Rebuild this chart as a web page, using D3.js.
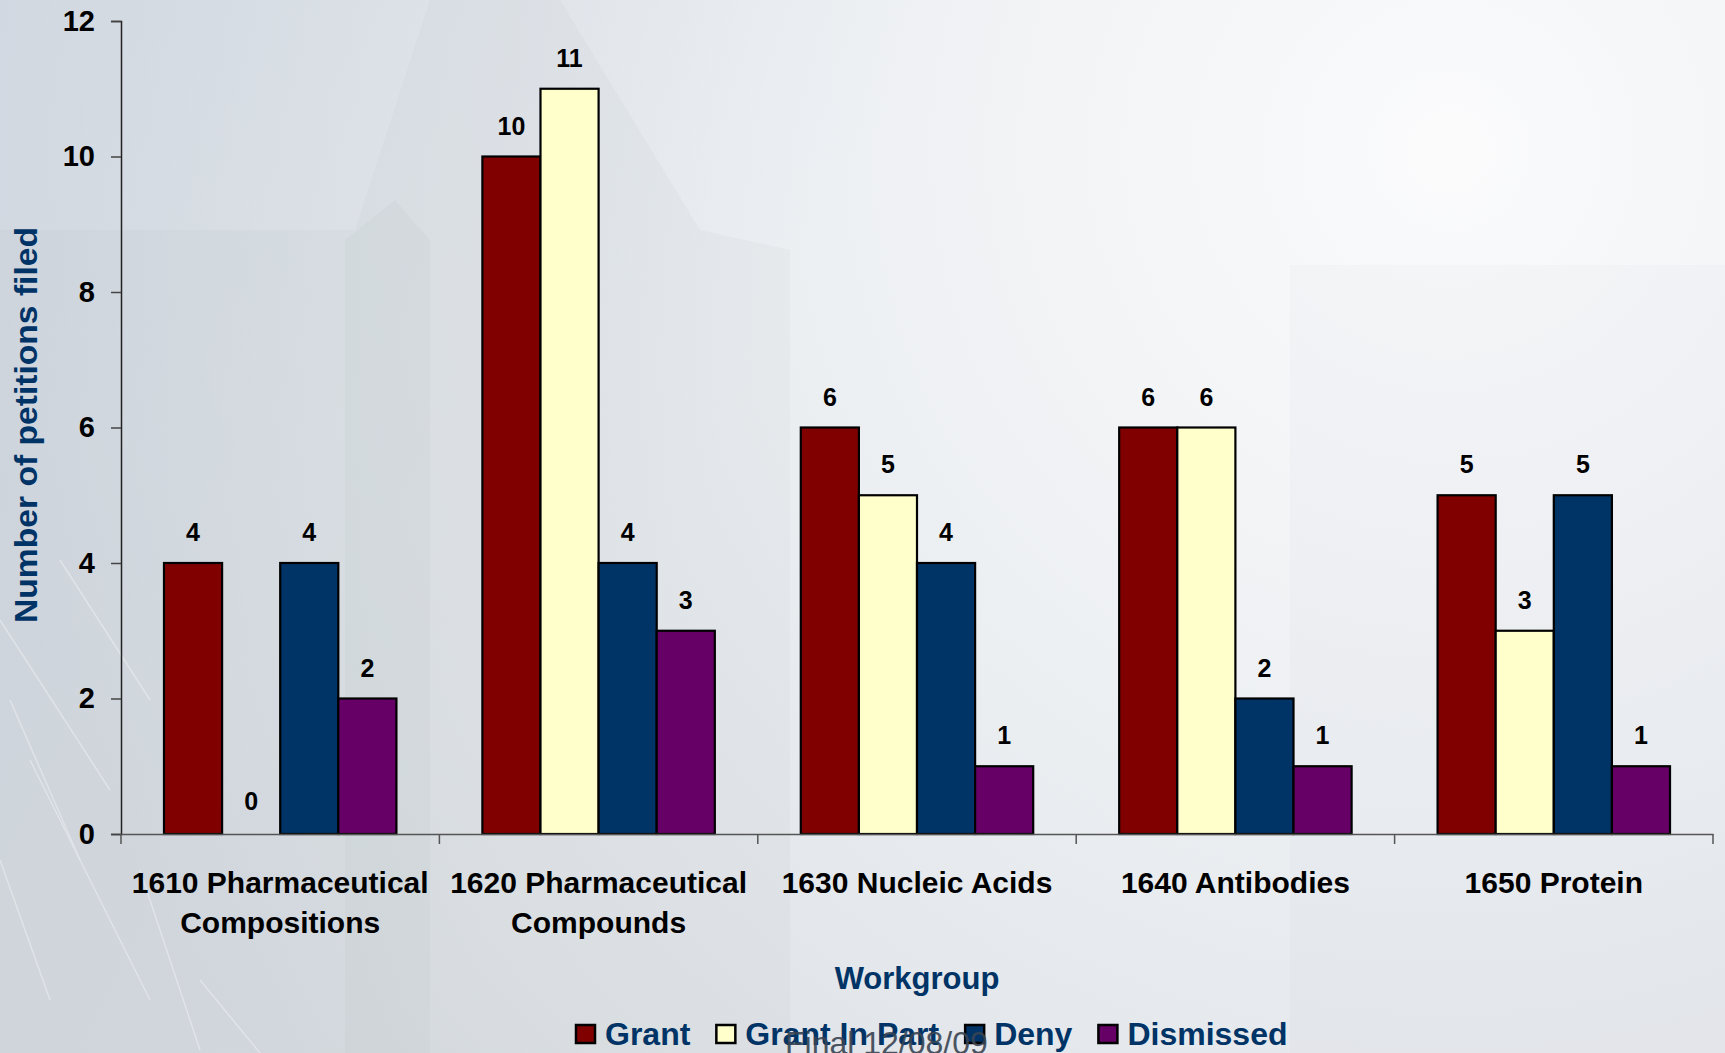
<!DOCTYPE html>
<html>
<head>
<meta charset="utf-8">
<script src="https://cdn.jsdelivr.net/npm/d3@7/dist/d3.min.js"></script>
<style>
  html, body { margin: 0; padding: 0; overflow: hidden; }
  body { width: 1725px; height: 1053px; }
  text { font-family: "Liberation Sans", Arial, sans-serif; }
</style>
</head>
<body>
<svg id="chart" width="1725" height="1053"></svg>
<script>
const categories = [
  ["1610 Pharmaceutical", "Compositions"],
  ["1620 Pharmaceutical", "Compounds"],
  ["1630 Nucleic Acids"],
  ["1640 Antibodies"],
  ["1650 Protein"]
];
const seriesNames = ["Grant", "Grant In Part", "Deny", "Dismissed"];
const grant       = [4, 10, 6, 6, 5];
const grantInPart = [0, 11, 5, 6, 3];
const deny        = [4, 4, 4, 2, 5];
const dismissed   = [2, 3, 1, 1, 1];
const seriesColors = ["#800000", "#FFFFCC", "#003366", "#660066"];
const yTicks = [0, 2, 4, 6, 8, 10, 12];
const yTitle = "Number of petitions filed";
const xTitle = "Workgroup";
const footer = "Final 12/08/09";

const seriesValues = [grant, grantInPart, deny, dismissed];
const catKeys = categories.map(c => c.join(" "));

const svg = d3.select("#chart");
const W = 1725, H = 1053;

// ---- background ----
const defs = svg.append("defs");
const bg = defs.append("radialGradient").attr("id", "bg")
  .attr("gradientUnits", "userSpaceOnUse")
  .attr("cx", 1450).attr("cy", 150).attr("r", 1500);
bg.append("stop").attr("offset", "0").attr("stop-color", "#fbfbfc");
bg.append("stop").attr("offset", "0.45").attr("stop-color", "#eceff2");
bg.append("stop").attr("offset", "1").attr("stop-color", "#d7dbe0");
svg.append("rect").attr("width", W).attr("height", H).attr("fill", "url(#bg)");

const tint = defs.append("linearGradient").attr("id", "tint")
  .attr("x1", 0).attr("y1", 0).attr("x2", 1).attr("y2", 0.3);
tint.append("stop").attr("offset", "0").attr("stop-color", "#c9d3e0").attr("stop-opacity", 0.45);
tint.append("stop").attr("offset", "0.5").attr("stop-color", "#c9d3e0").attr("stop-opacity", 0);
svg.append("rect").attr("width", W).attr("height", H).attr("fill", "url(#tint)");

// faint building silhouette
svg.append("path")
  .attr("d", "M0,230 L355,230 L430,0 L560,0 L700,230 L790,250 L790,1053 L0,1053 Z")
  .attr("fill", "#9aa3ad").attr("opacity", 0.07);
svg.append("path")
  .attr("d", "M345,240 L395,200 L430,240 L430,1053 L345,1053 Z")
  .attr("fill", "#8a939d").attr("opacity", 0.06);
svg.append("path")
  .attr("d", "M1290,265 L1725,265 L1725,1053 L1290,1053 Z")
  .attr("fill", "#9aa3ad").attr("opacity", 0.04);
// light streaks lower-left
const streaks = svg.append("g").attr("stroke", "#ffffff").attr("opacity", 0.35).attr("stroke-width", 1.5);
[[0,620,110,790],[10,700,80,860],[30,760,150,1000],[140,870,200,1050],[60,560,150,700],[200,980,260,1053],[0,860,50,1000]]
  .forEach(s => streaks.append("line").attr("x1", s[0]).attr("y1", s[1]).attr("x2", s[2]).attr("y2", s[3]));

// ---- scales ----
const plotLeft = 121, plotRight = 1713, plotTop = 21, plotBottom = 834;
const x0 = d3.scaleBand().domain(catKeys).range([plotLeft, plotRight]).padding(0);
const bw = x0.bandwidth();
const x1 = d3.scaleBand().domain(seriesNames).range([0.135 * bw, 0.865 * bw]).padding(0);
const y = d3.scaleLinear().domain([0, 12]).range([plotBottom, plotTop]);
const color = d3.scaleOrdinal().domain(seriesNames).range(seriesColors);

// ---- bars ----
const groups = svg.append("g").selectAll("g").data(catKeys).join("g")
  .attr("transform", d => `translate(${x0(d)},0)`);

const barData = (ci) => seriesNames.map((s, si) => ({ s, v: seriesValues[si][ci] }));

groups.each(function(cat, ci) {
  const g = d3.select(this);
  const data = barData(ci);
  g.selectAll("rect").data(data.filter(d => d.v > 0)).join("rect")
    .attr("x", d => x1(d.s))
    .attr("y", d => y(d.v))
    .attr("width", x1.bandwidth())
    .attr("height", d => y(0) - y(d.v))
    .attr("fill", d => color(d.s))
    .attr("stroke", "#000")
    .attr("stroke-width", 2.2);
  g.selectAll("text.val").data(data).join("text")
    .attr("class", "val")
    .attr("x", d => x1(d.s) + x1.bandwidth() / 2)
    .attr("y", d => y(d.v) - (d.v === 0 ? 24 : 22))
    .attr("text-anchor", "middle")
    .attr("font-size", 25).attr("font-weight", "bold").attr("fill", "#000")
    .text(d => d.v);
});

// ---- y axis ----
const yAxis = d3.axisLeft(y).tickValues(yTicks).tickSize(10).tickPadding(16).tickFormat(d3.format("d"));
const gy = svg.append("g").attr("transform", `translate(${plotLeft},0)`).call(yAxis);
gy.select(".domain").attr("stroke", "#222").attr("stroke-width", 1.5);
gy.selectAll(".tick line").attr("stroke", "#444").attr("stroke-width", 1.5);
gy.selectAll(".tick text").attr("font-size", 29).attr("font-weight", "bold")
  .attr("fill", "#000").attr("font-family", "'Liberation Sans', Arial, sans-serif");

// ---- x axis ----
const xAxis = d3.axisBottom(x0).tickSize(0).tickFormat("");
const gx = svg.append("g").attr("transform", `translate(0,${plotBottom})`).call(xAxis);
gx.select(".domain").attr("stroke", "#555").attr("stroke-width", 1.5);
gx.selectAll(".tick").remove();
// boundary ticks between categories
const bounds = catKeys.map(k => x0(k)).concat([x0(catKeys[catKeys.length - 1]) + bw]);
gx.selectAll("line.bt").data(bounds).join("line").attr("class", "bt")
  .attr("x1", d => d).attr("x2", d => d).attr("y1", 0).attr("y2", 10)
  .attr("stroke", "#555").attr("stroke-width", 1.5);

// category labels
const lbl = svg.append("g").selectAll("text").data(categories).join("text")
  .attr("x", (d, i) => x0(catKeys[i]) + bw / 2)
  .attr("y", 893)
  .attr("text-anchor", "middle")
  .attr("font-size", 30).attr("font-weight", "bold").attr("fill", "#000");
lbl.each(function(d) {
  const t = d3.select(this);
  d.forEach((line, li) => {
    t.append("tspan").attr("x", t.attr("x")).attr("dy", li === 0 ? 0 : 40).text(line);
  });
});

// ---- axis titles ----
svg.append("text")
  .attr("transform", "translate(37,425) rotate(-90)")
  .attr("text-anchor", "middle")
  .attr("font-size", 32).attr("font-weight", "bold").attr("fill", "#003366")
  .attr("textLength", 396).attr("lengthAdjust", "spacingAndGlyphs")
  .text(yTitle);

svg.append("text")
  .attr("x", (plotLeft + plotRight) / 2 + 0).attr("y", 989)
  .attr("text-anchor", "middle")
  .attr("font-size", 31).attr("font-weight", "bold").attr("fill", "#003366")
  .text(xTitle);

// ---- legend ----
const legend = svg.append("g");
let lx = 576;
seriesNames.forEach((s, i) => {
  legend.append("rect").attr("x", lx).attr("y", 1025).attr("width", 19).attr("height", 18)
    .attr("fill", color(s)).attr("stroke", "#000").attr("stroke-width", 2.5);
  const t = legend.append("text").attr("x", lx + 29).attr("y", 1045)
    .attr("font-size", 32).attr("font-weight", "bold").attr("fill", "#003366").text(s);
  lx = lx + 29 + t.node().getComputedTextLength() + 26;
});

// footer stamp overlapping legend
svg.append("text")
  .attr("x", 785).attr("y", 1054)
  .attr("font-size", 32).attr("fill", "#3a4553").attr("opacity", 0.9)
  .text(footer);
</script>
</body>
</html>
